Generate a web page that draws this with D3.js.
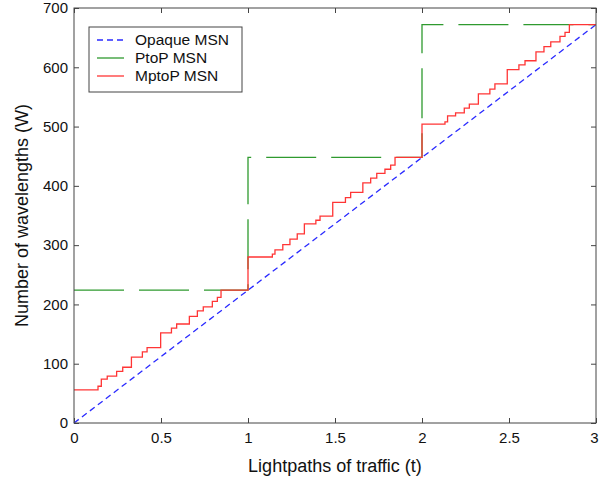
<!DOCTYPE html>
<html>
<head>
<meta charset="utf-8">
<script src="https://cdn.jsdelivr.net/npm/d3@7"></script>
<style>
  body { margin: 0; background: white; }
  text { font-family: "Liberation Sans", Arial, sans-serif; fill: #111; }
</style>
</head>
<body>
<div class="container"></div>
<script>
// data
const xTicks = [0, 0.5, 1, 1.5, 2, 2.5, 3];
const yTicks = [0, 100, 200, 300, 400, 500, 600, 700];

// opaque MSN: straight line
const opaqueT = [0, 3];
const opaqueW = [0, 672];

// PtoP MSN: one jump per lightpath
const ptopT = [0, 1, 1, 2, 2, 3];
const ptopW = [224, 224, 448, 448, 672, 672];

// MptoP MSN: step function (value holds from t onwards)
const mptopT = [0, 0.138, 0.157, 0.191, 0.245, 0.28, 0.33, 0.393, 0.42, 0.498, 0.56, 0.59, 0.663, 0.709, 0.743, 0.795, 0.824, 0.845,
  1.0, 1.14, 1.155, 1.2, 1.241, 1.283, 1.324, 1.39, 1.414, 1.487, 1.56, 1.59, 1.66, 1.705, 1.74, 1.787, 1.82, 1.845,
  2.0, 2.132, 2.147, 2.193, 2.243, 2.272, 2.324, 2.39, 2.419, 2.49, 2.557, 2.592, 2.655, 2.701, 2.74, 2.793, 2.822, 2.847, 3.0];
const mptopW = [56, 62, 74, 79, 87, 94, 111, 120, 127, 152, 160, 167, 180, 189, 196, 205, 212, 224,
  280, 285, 292, 301, 310, 319, 336, 342, 349, 372, 380, 389, 405, 413, 421, 428, 435, 448,
  504, 508, 518, 523, 531, 538, 555, 563, 572, 596, 604, 611, 626, 635, 643, 652, 659, 672, 672];

const seriesNames = ["Opaque MSN", "PtoP MSN", "MptoP MSN"];
const seriesColors = ["#2a2aff", "#2f9a2f", "#ff3535"];

// size of the page
const width = 599;
const height = 487;
const margin = { top: 8, bottom: 64, left: 74, right: 3 };

const svg = d3.select(".container")
  .append("svg")
  .attr("width", width)
  .attr("height", height);

// scales
const xScale = d3.scaleLinear()
  .domain([0, 3])
  .range([margin.left, width - margin.right]);

const yScale = d3.scaleLinear()
  .domain([0, 700])
  .range([height - margin.bottom, margin.top]);

// axes with inward ticks, like matlab
svg.append("g")
  .attr("transform", `translate(0, ${height - margin.bottom})`)
  .call(d3.axisBottom(xScale).tickValues(xTicks).tickSizeInner(-5).tickSizeOuter(0).tickPadding(9).tickFormat(d3.format("")))
  .call(g => g.select(".domain").remove())
  .call(g => g.selectAll(".tick text").filter(d => d === 3).attr("dx", -2)) // keep the last label on the page
  .attr("font-size", "15px");

svg.append("g")
  .attr("transform", `translate(${margin.left}, 0)`)
  .call(d3.axisLeft(yScale).tickValues(yTicks).tickSizeInner(-5).tickSizeOuter(0).tickPadding(6))
  .call(g => g.select(".domain").remove())
  .attr("font-size", "15px");

// ticks on top and right side of box
svg.append("g")
  .attr("transform", `translate(0, ${margin.top})`)
  .call(d3.axisTop(xScale).tickValues(xTicks).tickSizeInner(-5).tickSizeOuter(0).tickFormat(""))
  .call(g => g.select(".domain").remove());

svg.append("g")
  .attr("transform", `translate(${width - margin.right}, 0)`)
  .call(d3.axisRight(yScale).tickValues(yTicks).tickSizeInner(-5).tickSizeOuter(0).tickFormat(""))
  .call(g => g.select(".domain").remove());

svg.selectAll(".tick line").attr("stroke", "#444");

// the lines
const line = d3.line()
  .x(d => xScale(d[0]))
  .y(d => yScale(d[1]));

svg.append("path")
  .datum(opaqueT.map((t, i) => [t, opaqueW[i]]))
  .attr("d", line)
  .attr("fill", "none")
  .attr("stroke", seriesColors[0])
  .attr("stroke-width", 1.3)
  .attr("stroke-dasharray", "6,4");

svg.append("path")
  .datum(ptopT.map((t, i) => [t, ptopW[i]]))
  .attr("d", line)
  .attr("fill", "none")
  .attr("stroke", seriesColors[1])
  .attr("stroke-width", 1.3)
  .attr("stroke-dasharray", "50,15");

svg.append("path")
  .datum(mptopT.map((t, i) => [t, mptopW[i]]))
  .attr("d", line.curve(d3.curveStepAfter))
  .attr("fill", "none")
  .attr("stroke", seriesColors[2])
  .attr("stroke-width", 1.3);

// box around the plot
svg.append("rect")
  .attr("x", margin.left)
  .attr("y", margin.top)
  .attr("width", width - margin.left - margin.right)
  .attr("height", height - margin.top - margin.bottom)
  .attr("fill", "none")
  .attr("stroke", "#444")
  .attr("stroke-width", 1);

// axis titles
svg.append("text")
  .attr("x", (margin.left + width - margin.right) / 2)
  .attr("y", 472)
  .attr("text-anchor", "middle")
  .attr("font-size", "18px")
  .text("Lightpaths of traffic (t)");

svg.append("text")
  .attr("transform", `translate(28, ${(margin.top + height - margin.bottom) / 2}) rotate(-90)`)
  .attr("text-anchor", "middle")
  .attr("font-size", "18px")
  .text("Number of wavelengths (W)");

// legend
const legend = svg.append("g").attr("transform", "translate(89, 27)");

legend.append("rect")
  .attr("width", 153)
  .attr("height", 65)
  .attr("fill", "white")
  .attr("stroke", "#444");

const dashes = ["6,4", null, null];
seriesNames.forEach((name, i) => {
  const yRow = 13 + i * 18;
  legend.append("line")
    .attr("x1", 8).attr("x2", 35)
    .attr("y1", yRow).attr("y2", yRow)
    .attr("stroke", seriesColors[i])
    .attr("stroke-width", 1.3)
    .attr("stroke-dasharray", dashes[i]);
  legend.append("text")
    .attr("x", 46)
    .attr("y", yRow + 5)
    .attr("font-size", "15.5px")
    .text(name);
});
</script>
</body>
</html>
